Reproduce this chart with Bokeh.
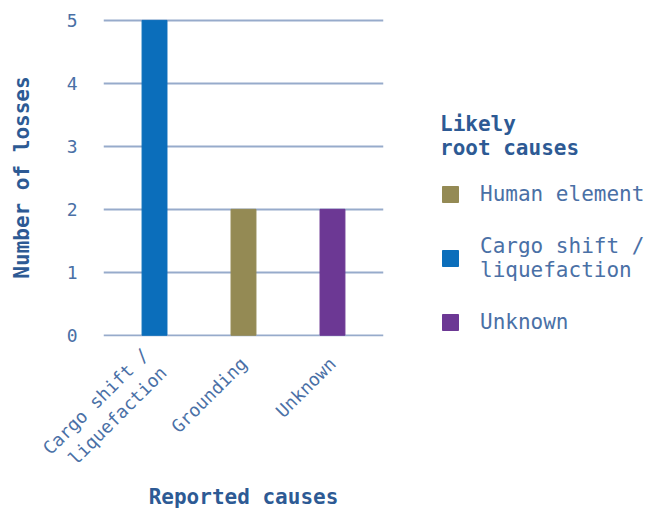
import math
from bokeh.plotting import figure
from bokeh.models import ColumnDataSource, FactorRange, Range1d, Legend, LegendItem, FixedTicker
from bokeh.embed import file_html
from bokeh.resources import INLINE

categories = ["Cargo shift /\nliquefaction", "Grounding", "Unknown"]
losses = [5, 2, 2]
root_causes = ["Cargo shift /\nliquefaction", "Human element", "Unknown"]
bar_colors = ["#0b6ebb", "#948a54", "#6c3894"]
legend_order = [1, 0, 2]  # index into bars: Human element, Cargo shift, Unknown
y_ticks = [0, 1, 2, 3, 4, 5]

FONT = "DejaVu Sans Mono"
TXT = "#4a70a6"
TITLE = "#2d5a94"
GRID = "#97abcb"

src = ColumnDataSource(dict(x=categories, top=losses, color=bar_colors, cause=root_causes))

p = figure(x_range=FactorRange(*categories, range_padding=0.049),
           y_range=Range1d(-0.02, 5.03),
           frame_width=280, frame_height=318,
           min_border_left=103, min_border_top=18, min_border_right=289, min_border_bottom=157,
           output_backend="svg", toolbar_location=None)
p.outline_line_color = None

r = p.vbar(x="x", top="top", width=0.28, color="color", source=src)

p.yaxis.ticker = FixedTicker(ticks=y_ticks)
for ax in (p.xaxis[0], p.yaxis[0]):
    ax.axis_line_color = None
    ax.major_tick_line_color = None
    ax.minor_tick_line_color = None
    ax.major_label_text_font = FONT
    ax.major_label_text_color = TXT
    ax.major_label_text_font_size = "18px"
    ax.axis_label_text_font = FONT
    ax.axis_label_text_color = TITLE
    ax.axis_label_text_font_size = "21px"
    ax.axis_label_text_font_style = "bold"

p.yaxis.axis_label = "Number of losses"
p.yaxis.major_label_standoff = 20
p.yaxis.axis_label_standoff = 30
p.xaxis.axis_label = "Reported causes"
p.xaxis.major_label_orientation = math.pi / 4
p.xaxis.major_label_standoff = 18
p.xaxis.axis_label_standoff = -11

p.xgrid.grid_line_color = None
p.ygrid.grid_line_color = GRID
p.ygrid.grid_line_width = 2

items = [LegendItem(label=root_causes[i], renderers=[r], index=i) for i in legend_order]
legend = Legend(items=items, title="Likely\nroot causes", location=(57, 2))
legend.border_line_color = None
legend.background_fill_alpha = 0
legend.title_text_font = FONT
legend.title_text_font_size = "21px"
legend.title_text_font_style = "bold"
legend.title_text_color = TITLE
legend.title_standoff = 22
legend.label_text_font = FONT
legend.label_text_font_size = "21px"
legend.label_text_color = TXT
legend.glyph_width = 20
legend.glyph_height = 20
legend.label_standoff = 20
legend.spacing = 28
legend.padding = 0
legend.margin = 0
p.add_layout(legend, "right")

open("out.html", "w").write(file_html(p, INLINE))
